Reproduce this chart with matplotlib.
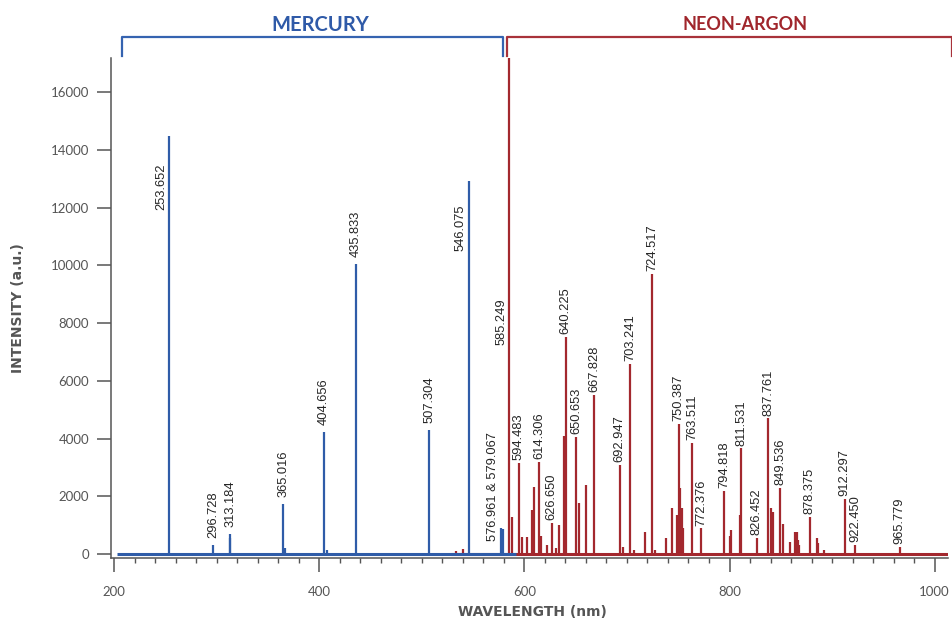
import matplotlib
matplotlib.use("Agg")
import matplotlib.pyplot as plt
import matplotlib.transforms as mtransforms
from matplotlib.ticker import MultipleLocator

# ---------- Data ----------

# Mercury lamp lines: wavelength (nm), peak intensity (a.u.), label ("" = none)
hg_wl = [253.652, 296.728, 312.567, 313.184, 365.016, 366.33, 404.656, 407.783,
         435.833, 507.304, 546.075, 576.961, 579.067]
hg_int = [14500, 310, 560, 690, 1730, 200, 4230, 140,
          10050, 4300, 12920, 900, 860]
hg_lab = ["253.652", "296.728", "", "313.184", "365.016", "", "404.656", "",
          "435.833", "507.304", "546.075", "576.961 & 579.067", ""]
hg_range = [203, 592]

# Neon-argon lamp lines
ne_wl = [533.08, 540.06, 585.249, 588.19, 594.483, 597.55, 603.00, 607.43,
         609.62, 614.306, 616.36, 621.73, 626.650, 630.48, 633.44, 638.30,
         640.225, 650.653, 653.29, 659.90, 667.828, 692.947, 696.54, 703.241,
         706.72, 717.39, 724.517, 727.29, 738.40, 743.89, 748.89, 750.387,
         751.465, 753.58, 754.40, 763.511, 772.376, 794.818, 800.616, 801.479,
         810.369, 811.531, 826.452, 837.761, 840.821, 842.465, 849.536, 852.144,
         859.13, 863.46, 865.44, 866.79, 868.19, 878.375, 885.39, 886.58,
         891.95, 912.297, 922.450, 965.779]
ne_int = [100, 180, 17500, 1270, 3170, 580, 580, 1520,
          2330, 3200, 620, 310, 1080, 200, 1000, 4100,
          7530, 4060, 1750, 2390, 5500, 3080, 250, 6600,
          140, 770, 9700, 150, 540, 1580, 1350, 4500,
          2270, 1580, 900, 3860, 890, 2180, 620, 830,
          1350, 3660, 550, 4700, 1600, 1440, 2300, 1040,
          400, 770, 770, 500, 300, 1280, 570, 370,
          140, 1905, 312, 250]
ne_lab = ["", "", "585.249", "", "594.483", "", "", "",
          "", "614.306", "", "", "626.650", "", "", "",
          "640.225", "650.653", "", "", "667.828", "692.947", "", "703.241",
          "", "", "724.517", "", "", "", "", "750.387",
          "", "", "", "763.511", "772.376", "794.818", "", "",
          "", "811.531", "826.452", "837.761", "", "", "849.536", "",
          "", "", "", "", "", "878.375", "", "",
          "", "912.297", "922.450", "965.779"]
ne_range = [528, 1013]

# labels that sit beside their line instead of on top: text top (a.u.)
side_labels = {"253.652": 13550, "546.075": 12100, "585.249": 8870,
               "576.961 & 579.067": 4240}

HG_COLOR = "#2f5ca8"
NE_COLOR = "#a3282e"
GREY = "#555555"

# ---------- Figure ----------

fig = plt.figure(figsize=(9.52, 6.27), dpi=100)
ax = fig.add_axes([111 / 952, 1 - 558 / 627, 837 / 952, 500 / 627])

# baselines then lines (neon-argon below mercury)
ax.plot(ne_range, [0, 0], color=NE_COLOR, lw=2.2, solid_capstyle="butt", zorder=2)
ax.vlines(ne_wl, 0, ne_int, colors=NE_COLOR, lw=1.6, zorder=2)
ax.plot(hg_range, [0, 0], color=HG_COLOR, lw=2.2, solid_capstyle="butt", zorder=3)
ax.vlines(hg_wl, 0, hg_int, colors=HG_COLOR, lw=1.6, zorder=3)

lab_kw = dict(rotation=90, ha="center", fontsize=9.3, color="#262626",
              family="Liberation Sans", textcoords="offset points", zorder=5)
for wls, ints, labs, gap in [(hg_wl, hg_int, hg_lab, 5.0), (ne_wl, ne_int, ne_lab, 2.0)]:
    for w, h, t in zip(wls, ints, labs):
        if not t:
            continue
        if t in side_labels:
            ax.annotate(t, xy=(w, side_labels[t]), xytext=(-5.8, 0), va="top", **lab_kw)
        else:
            ax.annotate(t, xy=(w, h), xytext=(0, gap), va="bottom", **lab_kw)

ax.set_xlim(197, 1013)
ax.set_ylim(-140, 17190)
ax.xaxis.set_major_locator(MultipleLocator(200))
ax.xaxis.set_minor_locator(MultipleLocator(20))
ax.yaxis.set_major_locator(MultipleLocator(2000))

for side in ["top", "right"]:
    ax.spines[side].set_visible(False)
for side in ["left", "bottom"]:
    ax.spines[side].set_color(GREY)
    ax.spines[side].set_linewidth(1.1)

ax.tick_params(axis="both", which="major", direction="out", length=9.8, width=1.1,
               color=GREY, labelcolor=GREY, labelsize=9.5)
ax.tick_params(axis="x", which="major", pad=10)
ax.tick_params(axis="y", which="major", pad=5.8)
ax.tick_params(axis="x", which="minor", direction="out", length=3.6, width=1.0, color=GREY)
for lbl in ax.get_xticklabels() + ax.get_yticklabels():
    lbl.set_family("Lato")

ax.set_xlabel("WAVELENGTH (nm)", fontsize=10, fontweight="bold", color=GREY)
ax.set_ylabel("INTENSITY (a.u.)", fontsize=10, fontweight="bold", color=GREY)
ax.xaxis.set_label_coords(0.504, -0.094)
ax.yaxis.set_label_coords(-0.103, 0.5)

# group brackets above the plot
trans = mtransforms.blended_transform_factory(ax.transData, ax.transAxes)
ax.plot([207.4, 207.4, 579.5, 579.5], [1.004, 1.0426, 1.0426, 1.004],
        color="#3563b0", lw=1.6, transform=trans, clip_on=False)
ax.plot([583.4, 583.4, 1016.5, 1016.5], [1.004, 1.0426, 1.0426, 1.004],
        color="#a8323a", lw=1.6, transform=trans, clip_on=False)
ax.text(400.8, 1.066, "MERCURY", transform=trans, ha="center", va="center",
        fontsize=14.5, fontweight="bold", family="Lato", color="#2f5aa8")
ax.text(815, 1.066, "NEON-ARGON", transform=trans, ha="center", va="center",
        fontsize=13, fontweight="bold", family="Lato", color="#a0262c")

fig.savefig("out.png", dpi=100)
plt.close(fig)
